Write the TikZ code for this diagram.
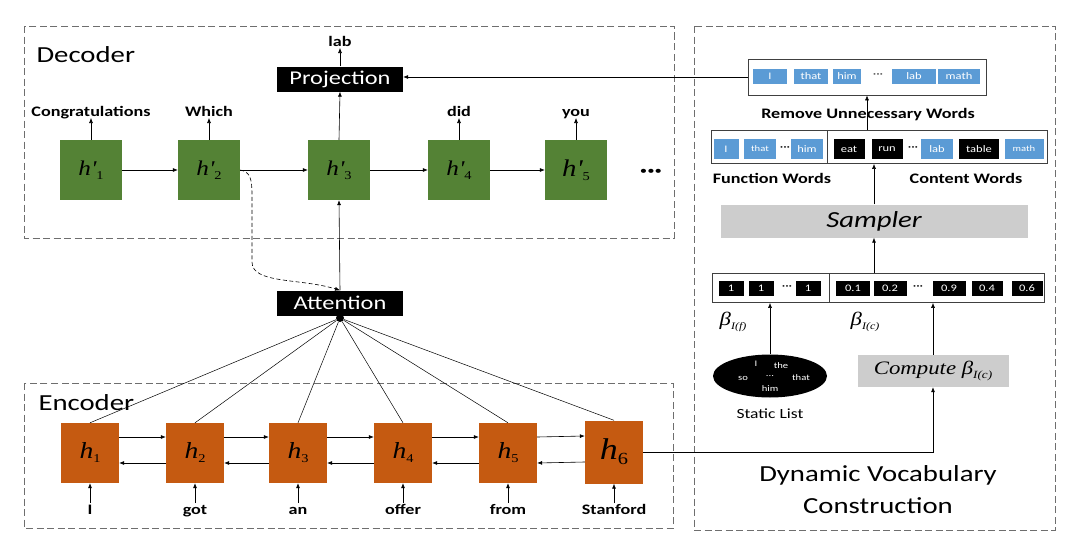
\documentclass[tikz,border=0pt]{standalone}
\usepackage{fontspec}
\setmainfont{Carlito}[FakeStretch=1.25]
\newfontfamily\tms{Liberation Serif}[FakeStretch=1.2]
\usetikzlibrary{arrows.meta,shapes.geometric}
\definecolor{dgreen}{HTML}{548235}
\definecolor{dorange}{HTML}{C55A11}
\definecolor{cblue}{HTML}{5B9BD5}
\definecolor{lgray}{HTML}{CDCDCD}
\definecolor{dashgray}{HTML}{6E6E6E}
\newcommand{\myfs}[1]{\fontsize{#1}{#1}\selectfont}
\newcommand{\hsub}[1]{\raisebox{-4pt}{\myfs{12}\upshape #1}}
\tikzset{
  dbox/.style={draw=dashgray, line width=0.9pt, dash pattern=on 7pt off 3.5pt},
  arr/.style={-{Latex[length=5pt,width=4pt]}, line width=0.6pt},
  gbox/.style={fill=dgreen, minimum width=62pt, minimum height=60pt, inner sep=0pt, font=\tms\itshape\myfs{21}},
  obox/.style={fill=dorange, minimum width=58pt, minimum height=60pt, inner sep=0pt, font=\tms\itshape\myfs{23}},
  blk/.style={fill=black, text=white, minimum width=126pt, minimum height=25pt, inner sep=0pt, font=\myfs{19.5}},
  word/.style={font=\bfseries\myfs{14.5}, inner sep=1pt, text depth=0pt},
  cellb/.style={fill=cblue, text=white, minimum height=15pt, inner sep=0pt, font=\myfs{10}},
  cellk/.style={fill=black, text=white, minimum height=15pt, inner sep=0pt, font=\myfs{10}},
  rowbox/.style={draw=black!75, line width=0.7pt, inner sep=0pt},
  graybox/.style={fill=lgray, inner sep=0pt},
  big/.style={font=\myfs{23}},
  dotsx/.style={inner sep=0pt, font=\myfs{11}},
  wsm/.style={text=white, inner sep=0pt, font=\myfs{8.5}},
}
\begin{document}
\begin{tikzpicture}[x=1pt,y=-1pt]
\useasboundingbox (0,0) rectangle (1080,554);
\fill[white] (0,0) rectangle (1080,554);

% ---------- dashed regions ----------
\draw[dbox] (24,26) rectangle (674,238);
\draw[dbox] (24,383) rectangle (673,528);
\draw[dbox] (694,26) rectangle (1055,530);
\node[big, anchor=west] (declab) at (33,55) {Decoder};
\node[big, anchor=west] (enclab) at (35,403) {Encoder};

% ---------- decoder ----------
\node[gbox] (d1) at (91,170) {h'\hsub{1}};
\node[gbox] (d2) at (209,170) {h'\hsub{2}};
\node[gbox] (d3) at (339,170) {h'\hsub{3}};
\node[gbox] (d4) at (459,170) {h'\hsub{4}};
\node[gbox, font=\tms\itshape\myfs{24}] (d5) at (576,170) {h'\hsub{5}};
\node[font=\bfseries\myfs{22}, inner sep=0pt] (ddots) at (651,173) {···};
\foreach \a/\b in {d1/d2,d2/d3,d3/d4,d4/d5}{\draw[arr] (\a.east) -- (\b.west);}

\node[word, anchor=south] (w1) at (91,118) {Congratulations};
\node[word, anchor=south] (w2) at (209,118) {Which};
\node[word, anchor=south] (w4) at (459,118) {did};
\node[word, anchor=south] (w5) at (576,118) {you};
\foreach \a/\b in {d1/w1,d2/w2,d4/w4,d5/w5}{\draw[arr] (\a.north) -- (\b.south);}

\node[blk] (proj) at (340,79) {Projection};
\node[word, anchor=south] (lab) at (340,48) {lab};
\draw[arr] (d3.north) -- (proj.south);
\draw[arr] (proj.north) -- (lab.south);

% ---------- attention ----------
\node[blk] (att) at (340,303) {Attention};
\draw[arr] (att.north) -- (d3.south);
\draw[arr, dashed, dash pattern=on 4pt off 2.5pt] (d2.east) .. controls (250,172) and (252,178) .. (252,195) -- (252,262) .. controls (252,284) and (300,278) .. (att.north);
\node[circle, fill=black, inner sep=0pt, minimum size=8pt] (hub) at (340,318) {};

% ---------- encoder ----------
\node[obox] (e1) at (90,453) {h\hsub{1}};
\node[obox] (e2) at (195,453) {h\hsub{2}};
\node[obox] (e3) at (298,453) {h\hsub{3}};
\node[obox] (e4) at (403,453) {h\hsub{4}};
\node[obox] (e5) at (508,453) {h\hsub{5}};
\node[obox, minimum height=63pt, font=\tms\itshape\myfs{30}] (e6) at (614,452) {h\raisebox{-5pt}{\myfs{17}\upshape 6}};
\foreach \a/\b in {e1/e2,e2/e3,e3/e4,e4/e5,e5/e6}{
  \draw[arr] ([yshift=16pt]\a.east) -- ([yshift=16pt]\b.west);
  \draw[arr] ([yshift=-10pt]\b.west) -- ([yshift=-10pt]\a.east);
}
\foreach \e in {e1,e2,e3,e4,e5,e6}{\draw[line width=0.5pt] (hub) -- (\e.north);}

\node[word, anchor=north, text height=10pt] (i1) at (90,503) {I};
\node[word, anchor=north, text height=10pt] (i2) at (195,503) {got};
\node[word, anchor=north, text height=10pt] (i3) at (298,503) {an};
\node[word, anchor=north, text height=10pt] (i4) at (403,503) {offer};
\node[word, anchor=north, text height=10pt] (i5) at (508,503) {from};
\node[word, anchor=north, text height=10pt] (i6) at (614,503) {Stanford};
\foreach \a/\b in {i1/e1,i2/e2,i3/e3,i4/e4,i5/e5,i6/e6}{\draw[arr] (\a.north) -- (\b.south);}

% ---------- dynamic vocabulary ----------
% remove row
\node[rowbox, minimum width=238pt, minimum height=36pt] (rem) at (867,77) {};
\node[cellb, minimum width=34pt] (r1) at (770,76) {I};
\node[cellb, minimum width=34pt] (r2) at (811,76) {that};
\node[cellb, minimum width=28pt] (r3) at (847,76) {him};
\node[dotsx, text=black!70] (r4) at (878,76) {···};
\node[cellb, minimum width=44pt] (r5) at (914,76) {lab};
\node[cellb, minimum width=42pt] (r6) at (959,76) {math};
\draw[arr] (rem.west) -- (rem.west -| proj.east);
\node[word] (remlab) at (868,113) {Remove Unnecessary Words};

% function / content row
\node[rowbox, minimum width=336pt, minimum height=33pt] (fc) at (879,147) {};
\draw[line width=0.7pt, black!75] (fc.north -| 827,0) -- (fc.south -| 827,0);
\node[cellb, minimum width=25pt, minimum height=20pt] (f1) at (726,149) {I};
\node[cellb, minimum width=32pt, minimum height=20pt, font=\myfs{8.5}] (f2) at (760,149) {that};
\node[dotsx] (f3) at (785,149) {···};
\node[cellb, minimum width=32pt, minimum height=20pt] (f4) at (807,149) {him};
\node[cellk, minimum width=31pt, minimum height=20pt] (c1) at (849,149) {eat};
\node[cellk, minimum width=31pt, minimum height=20pt] (c2) at (887,149) {run};
\node[dotsx] (c3) at (913,149) {···};
\node[cellb, minimum width=32pt, minimum height=20pt] (c4) at (937,149) {lab};
\node[cellk, minimum width=40pt, minimum height=20pt] (c5) at (979,149) {table};
\node[cellb, minimum width=39pt, minimum height=20pt, font=\myfs{8.5}] (c6) at (1024,149) {math};
\node[word] (funlab) at (772,178) {Function Words};
\node[word] (conlab) at (966,178) {Content Words};
\draw[arr] (rem.south |- fc.north) -- (rem.south);

% sampler
\node[graybox, minimum width=307pt, minimum height=33pt, font=\itshape\myfs{23}] (samp) at (874,221) {Sampler};
\draw[arr] (samp.north) -- (samp.north |- fc.south);

% beta row
\node[rowbox, minimum width=332pt, minimum height=29pt] (bb) at (878,288) {};
\draw[line width=0.7pt, black!75] (bb.north -| 829,0) -- (bb.south -| 829,0);
\node[cellk, minimum width=25pt] (b1) at (731,288) {1};
\node[cellk, minimum width=25pt] (b2) at (761,288) {1};
\node[dotsx] (b3) at (787,288) {···};
\node[cellk, minimum width=25pt] (b4) at (808,288) {1};
\node[cellk, minimum width=34pt] (b5) at (853,288) {0.1};
\node[cellk, minimum width=33pt] (b6) at (890,288) {0.2};
\node[dotsx] (b7) at (918,288) {···};
\node[cellk, minimum width=33pt] (b8) at (949,288) {0.9};
\node[cellk, minimum width=31pt] (b9) at (987,288) {0.4};
\node[cellk, minimum width=31pt] (b10) at (1027,288) {0.6};
\draw[arr] (samp.south |- bb.north) -- (samp.south);
\node[font=\tms\itshape\myfs{19}, inner sep=0pt] (bf) at (733,322) {β\raisebox{-4pt}{\myfs{10}I(f)}};
\node[font=\tms\itshape\myfs{19}, inner sep=0pt] (bc) at (865,322) {β\raisebox{-4pt}{\myfs{10}I(c)}};

% static list
\node[ellipse, fill=black, minimum width=114pt, minimum height=43pt, inner sep=0pt] (stat) at (770,376) {};
\node[wsm] (s1) at (756,364) {I};
\node[wsm] (s2) at (781,366) {the};
\node[wsm] (s3) at (743,378) {so};
\node[wsm] (s4) at (770,376) {...};
\node[wsm] (s5) at (801,378) {that};
\node[wsm] (s6) at (770,389) {him};
\draw[arr] (stat.north) -- (stat.north |- bb.south);
\node[font=\myfs{14}] (statlab) at (770,414) {Static List};

% compute
\node[graybox, minimum width=151pt, minimum height=32pt, font=\tms\itshape\myfs{19}] (comp) at (933,371) {Compute β\raisebox{-4pt}{\myfs{11}I(c)}};
\draw[arr] (comp.north) -- (comp.north |- bb.south);
\draw[arr] (e6.east) -| (comp.south);

\node[big, align=center] (dynlab) at (878,490) {Dynamic Vocabulary\\[9pt]Construction};
\end{tikzpicture}
\end{document}
